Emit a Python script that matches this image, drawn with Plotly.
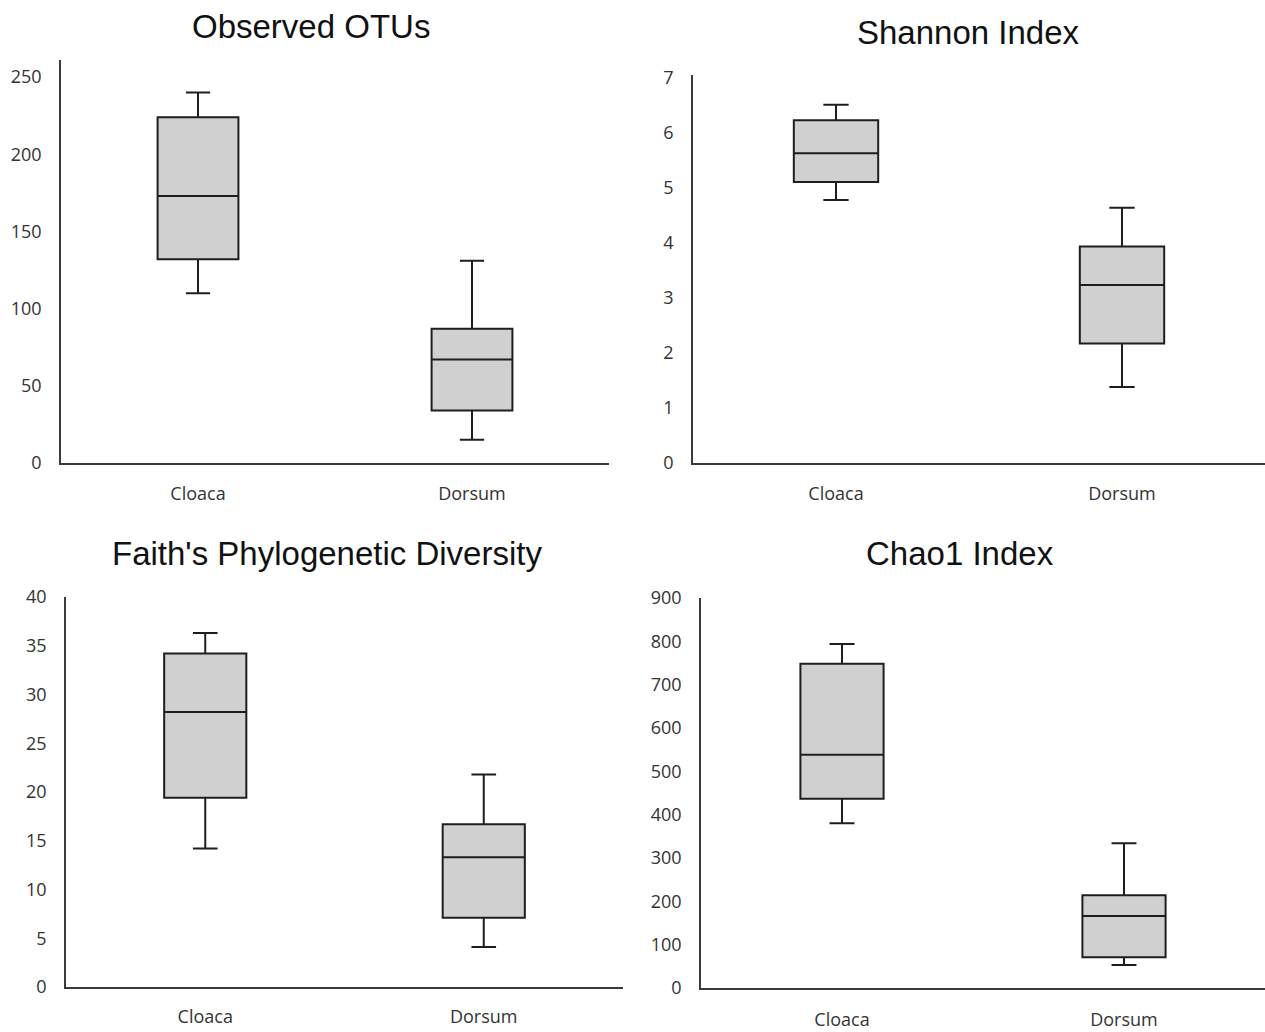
import plotly.graph_objects as go

categories = ["Cloaca", "Dorsum"]

otus_upper = [240, 131]
otus_q3 = [224, 87]
otus_median = [173, 67]
otus_q1 = [132, 34]
otus_lower = [110, 15]

shannon_upper = [6.5, 4.63]
shannon_q3 = [6.22, 3.93]
shannon_median = [5.62, 3.23]
shannon_q1 = [5.1, 2.17]
shannon_lower = [4.77, 1.38]

faith_upper = [36.3, 21.8]
faith_q3 = [34.2, 16.7]
faith_median = [28.2, 13.3]
faith_q1 = [19.4, 7.1]
faith_lower = [14.2, 4.1]

chao_upper = [794, 334]
chao_q3 = [748, 214]
chao_median = [538, 166]
chao_q1 = [437, 71]
chao_lower = [380, 53]

titles = ["Observed OTUs", "Shannon Index", "Faith's Phylogenetic Diversity", "Chao1 Index"]

W, H = 1265, 1032

panels = [
    (otus_lower, otus_q1, otus_median, otus_q3, otus_upper),
    (shannon_lower, shannon_q1, shannon_median, shannon_q3, shannon_upper),
    (faith_lower, faith_q1, faith_median, faith_q3, faith_upper),
    (chao_lower, chao_q1, chao_median, chao_q3, chao_upper),
]

# pixel geometry: (x_left, x_right, y_bottom, y_top)
geom = [
    (61, 609, 463, 60),
    (693, 1265, 463, 75),
    (66, 623, 987, 597),
    (701, 1265, 988, 598),
]
yranges = [[0, 261], [0, 7.04], [0, 40], [0, 900]]
ydticks = [50, 1, 5, 100]
xstandoff = [14, 14, 13, 15]
title_pos = [(311, 26), (968, 33), (327, 553), (960, 553)]

fig = go.Figure()
layout = {}
for i, (lo, q1, med, q3, up) in enumerate(panels):
    n = "" if i == 0 else str(i + 1)
    fig.add_trace(go.Box(
        x=categories, lowerfence=lo, q1=q1, median=med, q3=q3, upperfence=up,
        xaxis="x" + n, yaxis="y" + n,
        fillcolor="#d0d0d0", line=dict(color="#1e1e1e", width=2),
        width=0.295, whiskerwidth=0.3, boxpoints=False, showlegend=False,
    ))
    xl, xr, yb, yt = geom[i]
    layout["xaxis" + n] = dict(
        domain=[xl / W, xr / W], anchor="y" + n, type="category",
        range=[-0.5, 1.5], showline=True, linecolor="#3a3a3a", linewidth=1.5,
        showgrid=False, zeroline=False, ticks="", ticklabelstandoff=xstandoff[i],
        tickfont=dict(family="Open Sans", size=18, color="#333333"),
        fixedrange=True, automargin=False,
    )
    layout["yaxis" + n] = dict(
        domain=[(H - yb) / H, (H - yt) / H], anchor="x" + n,
        range=yranges[i], dtick=ydticks[i], tick0=0,
        showline=True, linecolor="#3a3a3a", linewidth=1.5,
        showgrid=False, zeroline=False, ticks="", ticklabelstandoff=14,
        tickfont=dict(family="Open Sans", size=18, color="#333333"),
        fixedrange=True, automargin=False,
    )

annotations = []
for t, (tx, ty) in zip(titles, title_pos):
    annotations.append(dict(
        text=t, x=tx / W, y=(H - ty) / H, xref="paper", yref="paper",
        xanchor="center", yanchor="middle", showarrow=False,
        font=dict(family="Liberation Sans, Arial", size=33, color="#111111"),
    ))

fig.update_layout(
    width=W, height=H, margin=dict(l=0, r=0, t=0, b=0, autoexpand=False),
    paper_bgcolor="white", plot_bgcolor="white",
    annotations=annotations, **layout,
)

fig.write_html("out.html")
